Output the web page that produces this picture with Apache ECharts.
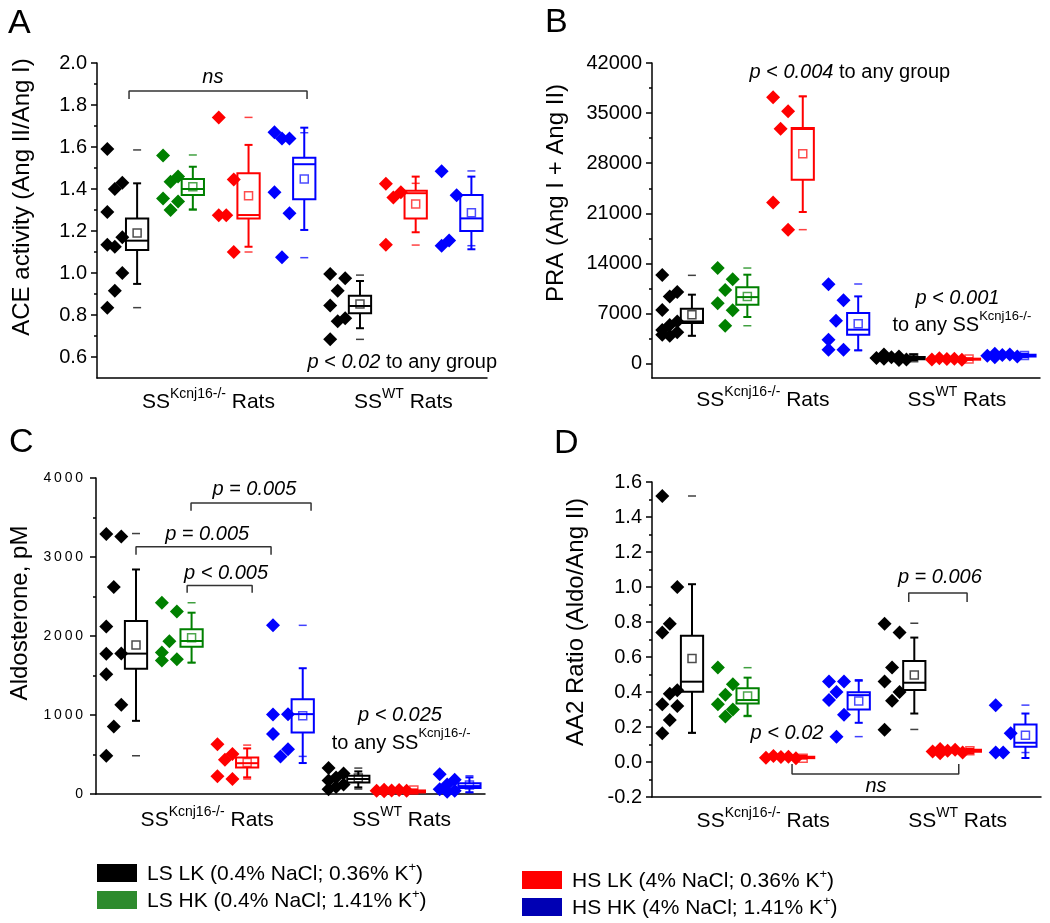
<!DOCTYPE html>
<html><head><meta charset="utf-8">
<script src="https://cdn.jsdelivr.net/npm/echarts@6/dist/echarts.min.js"></script>
<style>html,body{margin:0;padding:0;background:#fff}#c{width:1050px;height:923px}</style>
</head><body><div id="c"></div>
<script>
// ---------------- DATA ----------------
const groupNames = ['LS LK (0.4% NaCl; 0.36% K⁺)', 'LS HK (0.4% NaCl; 1.41% K⁺)', 'HS LK (4% NaCl; 0.36% K⁺)', 'HS HK (4% NaCl; 1.41% K⁺)'];
const strainBase = ['SS', 'SS'];
const strainSup = ['Kcnj16-/-', 'WT'];
const strainTail = [' Rats', ' Rats'];
// slots (left to right): KO LSLK, KO LSHK, KO HSLK, KO HSHK, WT LSLK, WT HSLK, WT HSHK
const slotGroup = [0, 1, 2, 3, 0, 2, 3];
const slotStrain = [0, 0, 0, 0, 1, 1, 1];

// Panel A: ACE activity
const aceTicks = [0.6, 0.8, 1.0, 1.2, 1.4, 1.6, 1.8, 2.0];
const acePts = [
  [1.59, 1.43, 1.40, 1.29, 1.17, 1.125, 1.135, 1.00, 0.915, 0.835],
  [1.56, 1.46, 1.435, 1.355, 1.34, 1.30],
  [1.74, 1.445, 1.275, 1.275, 1.10],
  [1.67, 1.64, 1.64, 1.385, 1.285, 1.075],
  [0.995, 0.975, 0.915, 0.845, 0.785, 0.77, 0.685],
  [1.425, 1.385, 1.36, 1.135],
  [1.485, 1.37, 1.155, 1.13]
];
// [whiskerLow, Q1, median, Q3, whiskerHigh, mean, min, max]
const aceBox = [
  [0.948, 1.11, 1.154, 1.26, 1.427, 1.19, 0.835, 1.586],
  [1.303, 1.371, 1.40, 1.448, 1.506, 1.411, 1.30, 1.562],
  [1.125, 1.26, 1.276, 1.475, 1.61, 1.368, 1.10, 1.741],
  [1.205, 1.351, 1.518, 1.549, 1.692, 1.448, 1.073, 1.668],
  [0.737, 0.808, 0.843, 0.892, 0.962, 0.852, 0.684, 0.99],
  [1.194, 1.26, 1.38, 1.392, 1.459, 1.329, 1.133, 1.427],
  [1.113, 1.2, 1.26, 1.371, 1.459, 1.287, 1.13, 1.486]
];

// Panel B: PRA
const praTicks = [0, 7000, 14000, 21000, 28000, 35000, 42000];
const praPts = [
  [12400, 10000, 9400, 7500, 5900, 5400, 4700, 4400, 3900, 4050],
  [13350, 11800, 10300, 8450, 7450, 5300],
  [37200, 35250, 32800, 22500, 18700],
  [11100, 8850, 6000, 3350, 1950, 1950],
  [1300, 1000, 900, 800, 700, 600, 500],
  [750, 700, 650, 600, 550],
  [1400, 1300, 1200, 1100, 1000, 900]
];
const praBox = [
  [3900, 5680, 5900, 7680, 9640, 6840, 3900, 12340],
  [6520, 8240, 9300, 10660, 12430, 9400, 5300, 13360],
  [21190, 25700, 32780, 32920, 37340, 29330, 18720, 37340],
  [1860, 4050, 4750, 7080, 9400, 5590, 1860, 11130],
  [500, 620, 750, 950, 1250, 830, 500, 1300],
  [560, 600, 650, 700, 740, 650, 550, 750],
  [900, 1000, 1150, 1250, 1380, 1150, 900, 1400]
];

// Panel C: Aldosterone
const aldoTicks = [0, 1000, 2000, 3000, 4000];
const aldoPts = [
  [3290, 3260, 2620, 2120, 1780, 1775, 1515, 1130, 855, 485],
  [2420, 2310, 1935, 1790, 1705, 1690],
  [630, 505, 435, 225, 190],
  [2135, 1010, 1005, 758, 568, 476],
  [330, 260, 210, 170, 120, 90, 60],
  [55, 50, 45, 40, 40, 35],
  [250, 180, 120, 60, 40, 30]
];
const aldoBox = [
  [926, 1587, 1777, 2189, 2842, 1886, 484, 3297],
  [1663, 1865, 1937, 2084, 2295, 1979, 1663, 2421],
  [211, 337, 390, 463, 577, 400, 190, 619],
  [392, 779, 1011, 1200, 1592, 989, 476, 2135],
  [84, 147, 190, 232, 286, 202, 63, 328],
  [10, 20, 30, 45, 55, 50, 10, 60],
  [21, 76, 100, 135, 210, 114, 21, 230]
];

// Panel D: AA2 ratio
const aa2Ticks = [-0.2, 0.0, 0.2, 0.4, 0.6, 0.8, 1.0, 1.2, 1.4, 1.6];
const aa2Pts = [
  [1.52, 1.00, 0.79, 0.74, 0.41, 0.39, 0.33, 0.32, 0.24, 0.165],
  [0.54, 0.445, 0.385, 0.33, 0.30, 0.26],
  [0.035, 0.03, 0.028, 0.025, 0.022],
  [0.46, 0.46, 0.40, 0.355, 0.27, 0.145],
  [0.79, 0.74, 0.54, 0.46, 0.40, 0.35, 0.185],
  [0.075, 0.07, 0.065, 0.06, 0.055, 0.05],
  [0.325, 0.165, 0.055, 0.055]
];
const aa2Box = [
  [0.167, 0.401, 0.459, 0.722, 1.016, 0.592, 0.165, 1.52],
  [0.264, 0.335, 0.354, 0.421, 0.482, 0.377, 0.26, 0.539],
  [0.02, 0.022, 0.025, 0.03, 0.035, 0.022, 0.02, 0.035],
  [0.224, 0.30, 0.382, 0.398, 0.468, 0.348, 0.145, 0.462],
  [0.277, 0.411, 0.453, 0.577, 0.711, 0.497, 0.186, 0.793],
  [0.05, 0.058, 0.063, 0.07, 0.075, 0.065, 0.05, 0.075],
  [0.023, 0.087, 0.11, 0.215, 0.277, 0.153, 0.054, 0.325]
];

// Annotations (axis units: x in slots, y in panel values)
const aceNotes = [{x: 2.08, y: 1.93, t: '{i|ns}'}, {x: 5.48, y: 0.576, t: '{i|p} < {i|0.02} to any group'}];
const aceBrackets = [[0.575, 3.77, 1.867, 1.829]];
const praNotes = [{x: 3.57, y: 40740, t: '{i|p} < {i|0.004} to any group'}, {x: 5.51, y: 9070, t: '{i|p < 0.001}'}, {x: 5.59, y: 5720, t: '{n|to any SS}{s|Kcnj16-/-}'}];
const praBrackets = [];
const aldoNotes = [{x: 2.85, y: 3849, t: '{i|p = 0.005}'}, {x: 2.0, y: 3281, t: '{i|p = 0.005}'}, {x: 2.34, y: 2789, t: '{i|p < 0.005}'}, {x: 5.47, y: 997, t: '{i|p < 0.025}'}, {x: 5.49, y: 681, t: '{n|to any SS}{s|Kcnj16-/-}'}];
const aldoBrackets = [[1.71, 3.87, 3685, 3584], [0.72, 3.15, 3130, 3029], [1.64, 2.81, 2638, 2549]];
const aa2Notes = [{x: 5.18, y: 1.057, t: '{i|p = 0.006}'}, {x: 2.43, y: 0.166, t: '{i|p < 0.02}'}, {x: 4.03, y: -0.137, t: '{i|ns}'}];
const aa2Brackets = [[4.62, 5.67, 0.966, 0.914], [2.52, 5.52, -0.069, -0.011]];

const yTitles = ['ACE activity (Ang II/Ang I)', 'PRA (Ang I + Ang II)', 'Aldosterone, pM', 'AA2 Ratio (Aldo/Ang II)'];
const panelLetters = ['A', 'B', 'C', 'D'];

// ---------------- STYLE / LAYOUT ----------------
const FONT = '"Liberation Sans", Arial, Helvetica, sans-serif';
const groupColors = ['#000000', '#008000', '#ff0000', '#0000ff'];
const legendColors = ['#000000', '#2e8b2e', '#ff0000', '#0000b4'];
const NSLOT = 7, BOX_OFF = 0.72, PT_OFF = 0.32, BOX_W = 0.4;

const panels = [
  {pts: acePts, box: aceBox, ticks: aceTicks, min: 0.5, max: 2.0, fmt: v => v.toFixed(1), notes: aceNotes, brackets: aceBrackets,
   grid: {left: 97, top: 63, width: 390, height: 315}, tickFont: 20, spaced: false, lblMargin: 9,
   title: {x: 22, y: 197}, letter: {x: 8, y: 24}},
  {pts: praPts, box: praBox, ticks: praTicks, min: -2000, max: 42000, fmt: v => String(v), notes: praNotes, brackets: praBrackets,
   grid: {left: 652, top: 63, width: 388, height: 315}, tickFont: 20, spaced: false, lblMargin: 7,
   title: {x: 556, y: 193}, letter: {x: 545, y: 23}},
  {pts: aldoPts, box: aldoBox, ticks: aldoTicks, min: 0, max: 4000, fmt: v => String(v).split('').join('\u2009'), notes: aldoNotes, brackets: aldoBrackets,
   grid: {left: 96, top: 478, width: 389, height: 316}, tickFont: 14, spaced: true, lblMargin: 11,
   title: {x: 20, y: 613}, letter: {x: 9, y: 443}},
  {pts: aa2Pts, box: aa2Box, ticks: aa2Ticks, min: -0.2, max: 1.6, fmt: v => v.toFixed(1), notes: aa2Notes, brackets: aa2Brackets,
   grid: {left: 652, top: 482, width: 389, height: 315}, tickFont: 20, spaced: false, lblMargin: 9,
   title: {x: 576, y: 622}, letter: {x: 554, y: 444}}
];

// beeswarm-style horizontal spreading of points (layout only, overlap allowed)
function swarm(vals, slot, pxPerY, pxPerX) {
  const placed = [], out = [];
  const stepPx = 7.5, minD = 8;
  vals.forEach((v, i) => {
    const pref = [-1, 1, 0][i % 3];
    const near = [pref].concat([0, -1, 1].filter(c => c !== pref));
    const dist = c => placed.reduce((m, p) => Math.min(m, Math.hypot((p.c - c) * stepPx, (p.v - v) * pxPerY)), 1e9);
    let col = null;
    for (const c of near) { if (dist(c) >= minD) { col = c; break; } }
    if (col === null) {
      let best = near[0], bd = -1;
      [0, -1, 1].forEach(c => { const d = dist(c); if (d > bd) { bd = d; best = c; } });
      if (bd < 4) {
        [-2, 2].forEach(c => { const d = dist(c); if (d > bd) { bd = d; best = c; } });
      }
      col = best;
    }
    placed.push({c: col, v: v});
    out.push([slot + PT_OFF + col * stepPx / pxPerX, v]);
  });
  return out;
}

function boxRenderer(colors) {
  return function (params, api) {
    const x = api.value(0);
    const col = colors[params.dataIndex];
    const Y = k => api.coord([x, api.value(k)])[1];
    const cx = api.coord([x, api.value(1)])[0];
    const w = api.size([BOX_W, 0])[0];
    const yWL = Y(1), yQ1 = Y(2), yMed = Y(3), yQ3 = Y(4), yWH = Y(5), yMean = Y(6), yMin = Y(7), yMax = Y(8);
    const ls = {stroke: col, lineWidth: 2, fill: null};
    const thin = {stroke: col, lineWidth: 1.5, opacity: 0.75, fill: null};
    const cap = 4, dash = 4;
    const L = (x1, y1, x2, y2, s) => ({type: 'line', shape: {x1, y1, x2, y2}, style: s});
    return {type: 'group', children: [
      L(cx, yQ3, cx, yWH, ls), L(cx, yQ1, cx, yWL, ls),
      L(cx - cap, yWH, cx + cap, yWH, ls), L(cx - cap, yWL, cx + cap, yWL, ls),
      {type: 'rect', shape: {x: cx - w / 2, y: yQ3, width: w, height: Math.max(yQ1 - yQ3, 1)}, style: {stroke: col, lineWidth: 2, fill: '#fff'}},
      L(cx - w / 2, yMed, cx + w / 2, yMed, ls),
      {type: 'rect', shape: {x: cx - 4, y: yMean - 4, width: 8, height: 8}, style: {stroke: col, lineWidth: 1.5, opacity: 0.7, fill: null}},
      L(cx - dash, yMin, cx + dash, yMin, thin), L(cx - dash, yMax, cx + dash, yMax, thin)
    ]};
  };
}

const RICH = {
  i: {fontStyle: 'italic', fontSize: 20, fontFamily: FONT, color: '#000'},
  n: {fontSize: 20, fontFamily: FONT, color: '#000', lineHeight: 26, verticalAlign: 'bottom'},
  s: {fontSize: 13, fontFamily: FONT, color: '#000', lineHeight: 15, verticalAlign: 'top'}
};

function textRenderer(notes) {
  return function (params, api) {
    const p = api.coord([api.value(0), api.value(1)]);
    return {type: 'text', x: p[0], y: p[1], style: {
      text: notes[params.dataIndex].t, rich: RICH, fontSize: 20, fontFamily: FONT, fill: '#000',
      align: 'center', verticalAlign: 'middle'}};
  };
}

const option = {animation: false, backgroundColor: '#fff', grid: [], xAxis: [], yAxis: [], series: [], graphic: [], legend: []};

const strainCenters = [0, 1].map(s => {
  const idx = slotStrain.map((v, i) => v === s ? i : -1).filter(i => i >= 0);
  return (idx[0] + idx[idx.length - 1] + 1) / 2;
});

panels.forEach((P, k) => {
  option.grid.push(Object.assign({containLabel: false}, P.grid));
  option.xAxis.push({
    type: 'value', gridIndex: k, min: 0, max: NSLOT,
    axisLine: {show: true, onZero: false, lineStyle: {color: '#000', width: 1.5}},
    axisTick: {show: false}, splitLine: {show: false},
    axisLabel: {
      customValues: strainCenters, margin: P.lblMargin,
      formatter: v => { const s = Math.abs(v - strainCenters[0]) < 0.01 ? 0 : 1; return '{n|' + strainBase[s] + '}{s|' + strainSup[s] + '}{n|' + strainTail[s] + '}'; },
      rich: {
        n: {fontSize: 21, fontFamily: FONT, color: '#000', lineHeight: 26, verticalAlign: 'bottom'},
        s: {fontSize: 14, fontFamily: FONT, color: '#000', lineHeight: 16, verticalAlign: 'top'}
      }
    }
  });
  const minor = [];
  for (let i = 0; i < P.ticks.length - 1; i++) minor.push((P.ticks[i] + P.ticks[i + 1]) / 2);
  option.yAxis.push({
    type: 'value', gridIndex: k, min: P.min, max: P.max, position: 'left',
    axisLine: {show: true, onZero: false, lineStyle: {color: '#000', width: 1.5}},
    axisTick: {show: true, customValues: P.ticks, length: 6, lineStyle: {color: '#000', width: 1.5}},
    axisLabel: {customValues: P.ticks, formatter: P.fmt, fontSize: P.tickFont, fontFamily: FONT, color: '#000', margin: P.spaced ? 13 : 10},
    splitLine: {show: false}
  });
  option.yAxis.push({
    type: 'value', gridIndex: k, min: P.min, max: P.max, position: 'left', offset: 0,
    axisLine: {show: false}, axisLabel: {show: false}, splitLine: {show: false},
    axisTick: {show: true, customValues: minor, length: 3, lineStyle: {color: '#000', width: 1.5}}
  });
  const yIdx = 2 * k;
  const pxPerY = P.grid.height / (P.max - P.min);
  const pxPerX = P.grid.width / NSLOT;

  // boxes
  option.series.push({
    type: 'custom', xAxisIndex: k, yAxisIndex: yIdx, silent: true, z: 2,
    dimensions: ['x', 'wl', 'q1', 'med', 'q3', 'wh', 'mean', 'mn', 'mx'],
    encode: {x: 0, y: [1, 2, 3, 4, 5, 6, 7, 8]},
    data: P.box.map((b, s) => [s + BOX_OFF].concat(b)),
    renderItem: boxRenderer(slotGroup.map(g => groupColors[g]))
  });
  // points
  groupNames.forEach((name, g) => {
    let data = [];
    slotGroup.forEach((gg, s) => { if (gg === g) data = data.concat(swarm(P.pts[s], s, pxPerY, pxPerX)); });
    option.series.push({
      type: 'scatter', name: name, xAxisIndex: k, yAxisIndex: yIdx, z: 3,
      symbol: 'diamond', symbolSize: 14, itemStyle: {color: groupColors[g], opacity: 1},
      data: data, silent: true
    });
  });
  // brackets
  P.brackets.forEach(b => {
    option.series.push({
      type: 'line', xAxisIndex: k, yAxisIndex: yIdx, symbol: 'none', silent: true, clip: false, z: 4,
      lineStyle: {color: '#333', width: 1.5},
      data: [[b[0], b[3]], [b[0], b[2]], [b[1], b[2]], [b[1], b[3]]]
    });
  });
  // annotation texts
  option.series.push({
    type: 'custom', xAxisIndex: k, yAxisIndex: yIdx, silent: true, clip: false, z: 5,
    dimensions: ['x', 'y'], encode: {x: 0, y: 1},
    data: P.notes.map(n => [n.x, n.y]),
    renderItem: textRenderer(P.notes)
  });
  // y-axis title and panel letter
  option.graphic.push({type: 'text', x: P.title.x, y: P.title.y, rotation: Math.PI / 2,
    style: {text: yTitles[k], fontSize: 24, fontFamily: FONT, fill: '#000', align: 'center', verticalAlign: 'middle'}});
  option.graphic.push({type: 'text', x: P.letter.x, y: P.letter.y,
    style: {text: panelLetters[k], fontSize: 34, fontFamily: FONT, fill: '#000', align: 'left', verticalAlign: 'middle'}});
});

const legendFmt = n => { const i = n.indexOf('⁺'); return '{a|' + n.slice(0, i) + '}{s|+}{a|' + n.slice(i + 1) + '}'; };
const legendRich = {
  a: {fontSize: 21, fontFamily: FONT, color: '#000', lineHeight: 24, verticalAlign: 'bottom'},
  s: {fontSize: 13, fontFamily: FONT, color: '#000', lineHeight: 14, verticalAlign: 'top'}
};
[[0, 1, 97, 861], [2, 3, 522, 868]].forEach(([a, b, left, top]) => {
  option.legend.push({
    orient: 'vertical', left: left, top: top, height: 120, itemWidth: 40, itemHeight: 18, itemGap: 3, icon: 'rect',
    selectedMode: false, padding: 0,
    data: [a, b].map(g => ({name: groupNames[g], itemStyle: {color: legendColors[g], borderWidth: 0}})),
    formatter: legendFmt,
    textStyle: {rich: legendRich, padding: [0, 0, 0, 5]}
  });
});

const chart = echarts.init(document.getElementById('c'), null, {renderer: 'canvas'});
chart.setOption(option);
</script></body></html>
